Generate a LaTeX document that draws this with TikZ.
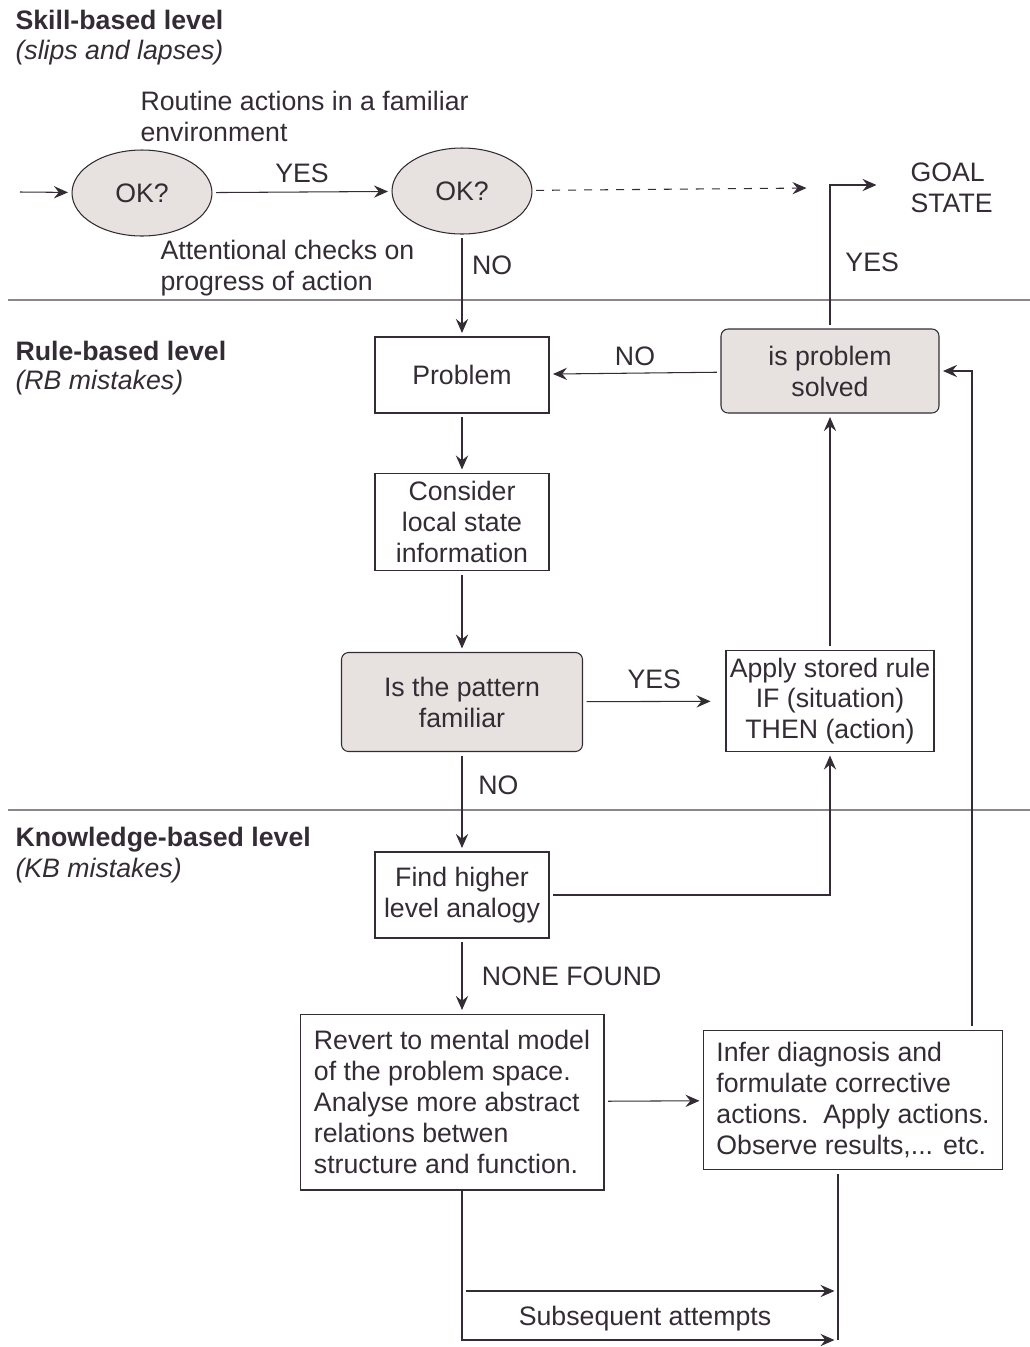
\documentclass[tikz,border=0pt]{standalone}
\usepackage{fontspec}
\setmainfont{Liberation Sans}
\usetikzlibrary{arrows.meta,positioning,shapes.geometric}
\definecolor{ink}{RGB}{52,44,52}
\definecolor{shade}{RGB}{231,226,223}
\definecolor{rule}{RGB}{140,133,137}

\begin{document}
\begin{tikzpicture}[x=0.02cm,y=-0.02cm,>={Stealth[length=8pt,width=7pt,inset=2.8pt]},
                    shorten >=2pt,shorten <=2pt,
                    line width=0.6pt,draw=ink,text=ink,
                    font=\fontsize{15.2}{17.6}\selectfont,
                    box/.style={rectangle,draw,align=center,inner sep=0pt},
                    test box/.style={box,fill=shade,rounded corners=4pt},
                    check/.style={ellipse,draw,fill=shade,inner sep=0pt,
                                  minimum width=2.8cm,minimum height=1.72cm},
                    note/.style={align=left,anchor=west,inner sep=0pt}]
  \useasboundingbox (0,0) rectangle (1030,1347);
  % level bands
  \draw[rule,shorten <=0pt,shorten >=0pt] (8,300) -- (1030,300);
  \draw[rule,shorten <=0pt,shorten >=0pt] (8,810) -- (1030,810);
  \node[note,font=\fontsize{15.2}{17.6}\bfseries] (h1) at (15,20) {Skill-based level};
  \node[note,font=\fontsize{15.2}{17.6}\itshape] (i1) at (15,53) {(slips and lapses)};
  \node[note,font=\fontsize{15.2}{17.6}\bfseries] (h2) at (15,351) {Rule-based level};
  \node[note,font=\fontsize{15.2}{17.6}\itshape] (i2) at (15,383) {(RB mistakes)};
  \node[note,font=\fontsize{15.2}{17.6}\bfseries] (h3) at (15,840) {Knowledge-based level};
  \node[note,font=\fontsize{15.2}{17.6}\itshape] (i3) at (15,871) {(KB mistakes)};

  % skill-based
  \node[note] (routine) at (140,116) {Routine actions in a familiar\\environment};
  \node[note] (checks) at (160,268) {Attentional checks on\\progress of action};
  \coordinate (in) at (20,192);
  \node[check] (1) at (142,193) {OK?};
  \node[check] (2) at (462,191) {OK?};
  \coordinate (g) at (810,188);
  \coordinate (goal) at (880,185);
  \node[note] (goaltext) at (910,188) {GOAL\\STATE};

  % rule-based
  \node[box,minimum width=3.48cm,minimum height=1.52cm] (3) at (462,375) {Problem};
  \node[box,minimum width=3.48cm,minimum height=1.94cm] (4) at (462,522)
       {Consider\\local state\\information};
  \node[test box,minimum width=4.82cm,minimum height=1.98cm] (5) at (462,702)
       {Is the pattern\\familiar};
  \node[box,minimum width=4.16cm,minimum height=2.02cm] (6) at (830,701)
       {Apply stored rule\\IF (situation)\\THEN (action)};
  \node[test box,minimum width=4.36cm,minimum height=1.68cm] (7) at (830,371)
       {is problem\\solved};

  % knowledge-based
  \node[box,minimum width=3.48cm,minimum height=1.72cm] (8) at (462,895)
       {Find higher\\level analogy};
  \node[box,align=left,minimum width=6.08cm,minimum height=3.52cm] (9)
       at (452,1102) {Revert to mental model\\of the problem space.\\Analyse more abstract\\relations betwen\\structure and function.};
  \node[box,align=left,minimum width=5.98cm,minimum height=2.78cm] (10)
       at (853,1100) {Infer diagnosis and\\formulate corrective\\actions.\ \ Apply actions.\\Observe results,... etc.};
  \coordinate (r) at (972,370);
  \coordinate (s1) at (838,1291);
  \coordinate (s2) at (838,1340);
  \node (sub) at (645,1319) {Subsequent attempts};

  \path[every node/.style={inner sep=0pt}]
    (in) edge [->,shorten <=0pt] (1)
    (1) edge [->] node [above=5pt] (yes1) {YES} (2)
    (2) edge [->,dashed,dash pattern=on 0.16cm off 0.16cm] (g)
    (2) edge [->] node [pos=0.3,right=5.5pt] (no1) {NO} (3)
    (3) edge [->] (4)
    (4) edge [->] (5)
    (5) edge [->,shorten >=8.5pt] node [above=7pt] (yes2) {YES} (6)
    (6) edge [->] (7)
    (7) edge [->] node [above=4pt] (no2) {NO} (3)
    (5) edge [->] node [pos=0.33,right=9pt] (no3) {NO} (8)
    (9) edge [->] (10)
    ;
  \draw[->] (7.north) |- node [pos=0.23,right=8.5pt,inner sep=0pt] (yes3) {YES} (goal);
  \draw[->] (10.north -| r) |- (7.east);
  \draw[->] (8.east) -| (6.south);
  \draw[->] (8.south) -- node [right=11pt,inner sep=0pt] (none) {NONE FOUND} (8.south |- 9.north);
  \draw[shorten >=0pt] (10.south -| s2) -- (s2);
  \draw[->,shorten <=0pt] (9.south -| 8.south) |- (s2);
  \draw[->] (s1 -| 8.south) -- (s1);
\end{tikzpicture}
\end{document}
